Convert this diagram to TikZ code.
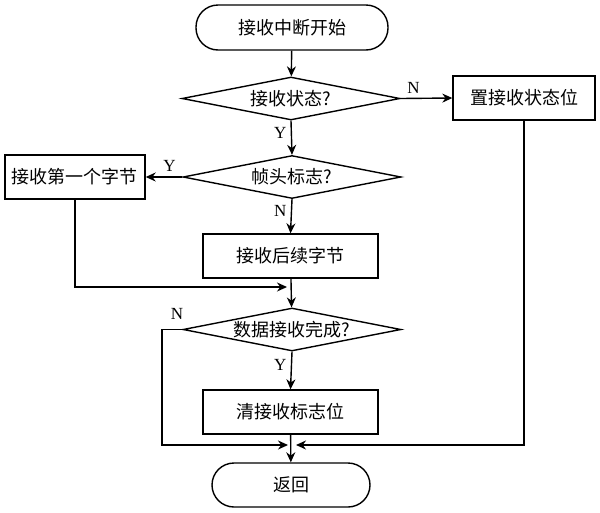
\documentclass[tikz,border=0pt]{standalone}
\usepackage{fontspec}
\setmainfont{Liberation Serif}
\newfontfamily\cjk{Noto Sans CJK SC}
\usetikzlibrary{shapes.geometric,arrows.meta}
\begin{document}
\begin{tikzpicture}[x=1pt,y=-1pt,
  every node/.style={font=\cjk\fontsize{18}{20}\selectfont},
  arr/.style={line width=1.4pt,-{Stealth[length=10pt,width=9pt]}},
  term/.style={draw,line width=1.4pt,rounded corners=22pt,minimum height=45pt,inner sep=0pt},
  proc/.style={draw,line width=1.4pt,minimum height=44pt,inner sep=0pt},
  dec/.style={draw,line width=1.4pt,diamond,aspect=6,inner sep=0pt,minimum width=218pt,minimum height=43pt},
  lab/.style={font=\fontsize{17}{19}\selectfont}
]
\useasboundingbox (0,0) rectangle (600,512);
\node[term,minimum width=192pt] (start) at (292,27.5) {接收中断开始};
\node[dec] (d1) at (291,98.5) {接收状态?};
\node[proc,minimum width=142pt] (r1) at (524,98) {置接收状态位};
\node[dec] (d2) at (292,177) {帧头标志?};
\node[proc,minimum width=140pt] (b1) at (75,177) {接收第一个字节};
\node[proc,minimum width=175pt] (b2) at (290.5,256) {接收后续字节};
\node[dec] (d3) at (292,329.5) {数据接收完成?};
\node[proc,minimum width=175pt] (b3) at (290.5,412) {清接收标志位};
\node[term,minimum width=158pt,minimum height=44pt] (end) at (291,485) {返回};
\coordinate (j1) at (291,287);
\coordinate (j2) at (292,445);
\coordinate (lx) at (162,445);
\coordinate (rx) at (523,445);

\draw[arr] (start) -- (d1);
\draw[arr] (d1.east) -- node[lab,above=1pt,pos=0.25]{N} (r1.west);
\draw[arr] (d1.south) -- node[lab,left=1pt,pos=0.35]{Y} (d2.north);
\draw[arr] (d2.west) -- node[lab,above=1pt,pos=0.35]{Y} (b1.east);
\draw[arr] (d2.south) -- node[lab,left=1pt,pos=0.35]{N} (b2.north);
\draw[arr] (b2) -- (d3);
\draw[arr] (b1.south) |- ([xshift=-4pt]j1);
\draw[arr] (d3.south) -- node[lab,left=1pt,pos=0.35]{Y} (b3.north);
\draw[arr] (d3.west) -| (lx) -- ([xshift=-4pt]j2);
\node[lab] at (177,314) {N};
\draw[arr] (r1.south) |- ([xshift=4pt]j2);
\draw[arr] (b3) -- (end);
\end{tikzpicture}
\end{document}
